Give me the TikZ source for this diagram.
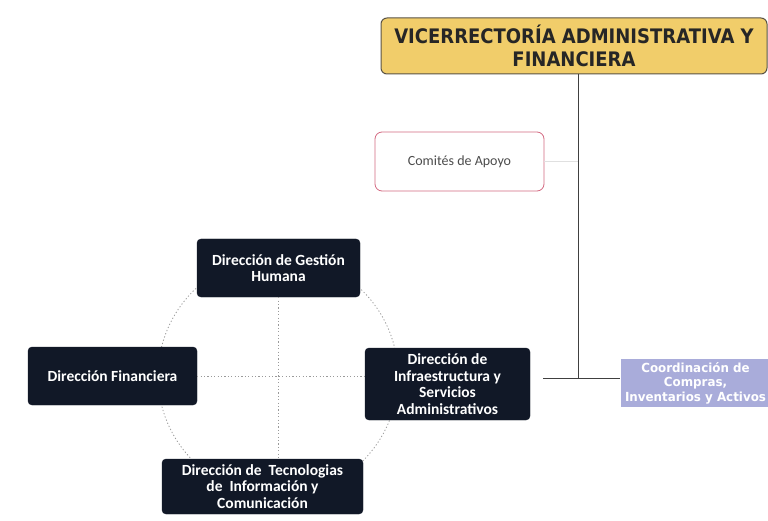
\documentclass[tikz,border=0pt]{standalone}
\usepackage{fontspec}
\setmainfont{Carlito}
\newfontfamily\tah[FakeStretch=0.9]{DejaVu Sans}
\newfontfamily\tahb[FakeStretch=0.95]{DejaVu Sans}
\newfontfamily\carl{Carlito}
\definecolor{navy}{HTML}{111827}
\definecolor{gold}{HTML}{F1CD6A}
\definecolor{goldline}{HTML}{5A5346}
\definecolor{pinkline}{HTML}{D46A82}
\definecolor{lav}{HTML}{A9ACDA}
\definecolor{dotgray}{HTML}{9A9A9A}
\tikzset{
  darkbox/.style={rectangle, rounded corners=4pt, fill=navy, draw=navy, text=white, align=center,
    font=\carl\bfseries\fontsize{15.5}{16.5}\selectfont, inner sep=1pt},
  topbox/.style={rectangle, rounded corners=6pt, fill=gold, draw=goldline, line width=1pt, align=center,
    text=black!85, font=\tah\bfseries\fontsize{20}{23}\selectfont, inner sep=1pt},
  combox/.style={rectangle, rounded corners=7pt, fill=white, draw=pinkline, line width=0.8pt, align=center,
    text=black!70, font=\carl\fontsize{14}{16}\selectfont},
  lavbox/.style={rectangle, fill=lav, draw=none, align=center, text=white,
    font=\tahb\bfseries\fontsize{12.5}{14.5}\selectfont, inner sep=0pt},
  solidline/.style={draw=black!75, line width=0.9pt},
  faintline/.style={draw=black!12, line width=0.8pt},
  dotline/.style={draw=dotgray, line width=0.8pt, dash pattern=on 1.2pt off 2.2pt}
}
\begin{document}
\begin{tikzpicture}[x=1pt,y=-1pt]
\useasboundingbox[fill=white] (0,0) rectangle (768,521);
% dotted circle behind the dark boxes
\draw[dotline] (278,376) circle (120pt);
\coordinate (j) at (578,378);
\coordinate (s) at (543,378);
\node[topbox, minimum width=386pt, minimum height=56pt] (vr) at (574,46) {VICERRECTORÍA ADMINISTRATIVA Y\\FINANCIERA};
\node[combox, minimum width=169pt, minimum height=59pt] (com) at (459.5,161.5) {Comités de Apoyo};
\node[darkbox, minimum width=163pt, minimum height=58pt] (gh) at (278.5,268) {Dirección de Gestión\\Humana};
\node[darkbox, minimum width=169pt, minimum height=58pt] (fin) at (112.5,376) {Dirección Financiera};
\node[darkbox, minimum width=165pt, minimum height=72pt] (inf) at (447.5,384) {Dirección de\\Infraestructura y\\Servicios\\Administrativos};
\node[darkbox, minimum width=201pt, minimum height=55pt] (tic) at (262.5,486.5) {Dirección de\ \ Tecnologias\\de\ \ Información y\\Comunicación};
\node[lavbox, minimum width=145pt, minimum height=48pt, text width=150pt] (coo) at (695.5,383) {Coordinación de\\Compras,\\Inventarios y Activos};
% dotted cross
\draw[dotline] (gh.south -| 278,0) -- (tic.north -| 278,0);
\draw[dotline] (fin.east |- 0,376) -- (inf.west |- 0,376);
% solid connectors
\draw[faintline] (com.east) -- (com.east -| j);
\draw[solidline] (vr.south -| j) -- (j);
\draw[solidline] (s) -- (coo.west |- s);
\end{tikzpicture}
\end{document}
